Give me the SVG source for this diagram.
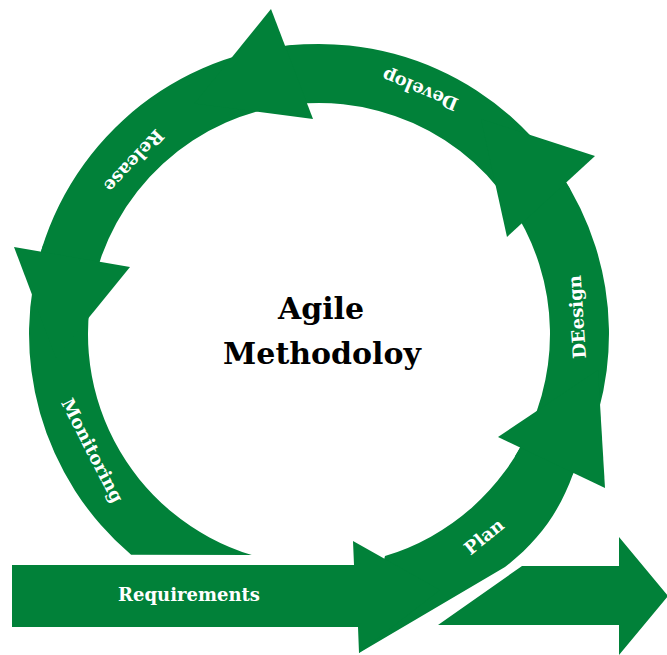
<svg xmlns="http://www.w3.org/2000/svg" width="667" height="655" viewBox="0 0 667 655">
<style>
.g{fill:#018139}
.lbl{font-family:"DejaVu Serif","Liberation Serif",serif;font-weight:bold;font-size:18px;fill:#fff;text-anchor:middle}
.title{font-family:"DejaVu Serif","Liberation Serif",serif;font-weight:bold;font-size:30px;fill:#000;text-anchor:middle}
</style>
<rect width="667" height="655" fill="#fff"/>
<g id="connectors"></g>
<g id="monitoring">
<path class="g" d="M131.1,554.8 A290,290 0 0 1 43.2,244.4 L99.3,262.6 A231,231 0 0 0 251.8,555 Z"/>
<text class="lbl" transform="translate(92.5,450.5) rotate(62.8)" dy="0.35em">Monitoring</text>
</g>
<g id="release">
<path class="g" d="M33.4,283.6 A290,290 0 0 1 293.7,45.1 L298.9,103.9 A231,231 0 0 0 91.5,293.9 Z"/>
<polygon class="g" points="14,247 130,267 56,358"/>
<text class="lbl" transform="translate(134,161) rotate(133.1)" dy="0.35em">Release</text>
</g>
<g id="develop">
<path class="g" d="M258.7,50.3 A290,290 0 0 1 570.1,189 L519.1,218.5 A231,231 0 0 0 271,108.1 Z"/>
<polygon class="g" points="271,9 313,119 194.5,103.6"/>
<text class="lbl" transform="translate(420,90) rotate(-157.5)" dy="0.35em">Develop</text>
</g>
<g id="design">
<path class="g" d="M559.4,171.8 A290,290 0 0 1 564.9,487.7 L514.9,456.4 A231,231 0 0 0 510.5,204.8 Z"/>
<polygon class="g" points="595,156 507,237 481,119"/>
<text class="lbl" transform="translate(577,317) rotate(-93.8)" dy="0.35em">DEesign</text>
</g>
<g id="plan">
<path class="g" d="M583.9,451.9 A290,290 0 0 1 573,474 C560,510 540,540 505,567 L359,653 L385,556 A231,231 0 0 0 530,428 Z"/>
<polygon class="g" points="605,488 498,437 598,370"/>
<text class="lbl" transform="translate(484,536.5) rotate(-39.2)" dy="0.35em">Plan</text>
</g>
<g id="requirements">
<polygon class="g" points="12,565 354,565 353,541 440,590 359,653 358,627 12,627"/>
<text class="lbl" x="189" y="601">Requirements</text>
</g>
<g id="output">
<polygon class="g" points="438,625 522,566 619,566 619,537 668,596 619,655 619,625"/>
</g>
<g id="title">
<text class="title" x="321" y="319">Agile</text>
<text class="title" x="322" y="364">Methodoloy</text>
</g>
</svg>
